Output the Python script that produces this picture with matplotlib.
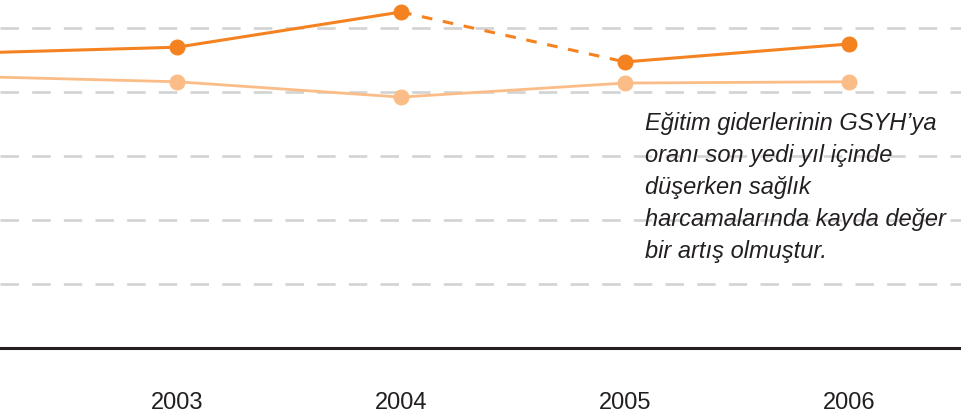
import matplotlib
matplotlib.use("Agg")
import matplotlib.pyplot as plt

years = [2002, 2003, 2004, 2005, 2006]
tick_years = [2003, 2004, 2005, 2006]
saglik = [4.60, 4.70, 5.25, 4.47, 4.75]   # dark orange series
egitim = [4.25, 4.16, 3.92, 4.14, 4.16]   # light orange series
dashed_segment = (2004, 2005)            # dark series drawn dashed between these years
grid_values = [1, 2, 3, 4, 5]
note = ("Eğitim giderlerinin GSYH’ya\noranı son yedi yıl içinde\ndüşerken sağlık\n"
        "harcamalarında kayda değer\nbir artış olmuştur.")

DARK = "#f58220"
LIGHT = "#fbbd87"
TXT = "#231f20"

W, H = 962, 415
fig = plt.figure(figsize=(W / 100, H / 100), dpi=100)
ax = fig.add_axes([0, (H - 348) / H, 1, 348 / H])

px = 224.0
ax.set_xlim(2003 - 177 / px, 2003 + (W - 177) / px)
ax.set_ylim(0, 348 / 64)

for g in grid_values:
    ax.axhline(g, color="#d3d3d3", lw=1.9, dashes=(7, 5), zorder=1)

# light series
ax.plot(years, egitim, color=LIGHT, lw=2.0, zorder=2)
ax.plot(years, egitim, "o", color=LIGHT, ms=10.5, zorder=3)

# dark series with dashed segment
i0 = years.index(dashed_segment[0])
i1 = years.index(dashed_segment[1])
ax.plot(years[:i0 + 1], saglik[:i0 + 1], color=DARK, lw=2.2, zorder=4)
ax.plot(years[i0:i1 + 1], saglik[i0:i1 + 1], color=DARK, lw=2.2, dashes=(3.5, 3.5), zorder=4)
ax.plot(years[i1:], saglik[i1:], color=DARK, lw=2.2, zorder=4)
ax.plot(years, saglik, "o", color=DARK, ms=10.5, zorder=5)

for s in ["top", "right", "left"]:
    ax.spines[s].set_visible(False)
ax.spines["bottom"].set_color(TXT)
ax.spines["bottom"].set_linewidth(2.2)
ax.set_yticks([])
ax.set_xticks(tick_years)
ax.set_xticklabels([str(y) for y in tick_years], fontsize=17, color=TXT,
                   family="Liberation Sans", fontweight="medium")
ax.tick_params(axis="x", length=0, pad=32)

fig.text(645 / W, 1 - 112 / H, note, fontsize=17, style="italic", color=TXT,
         family="Liberation Sans", va="top", ha="left", linespacing=1.5)

fig.savefig("out.png", dpi=100)
